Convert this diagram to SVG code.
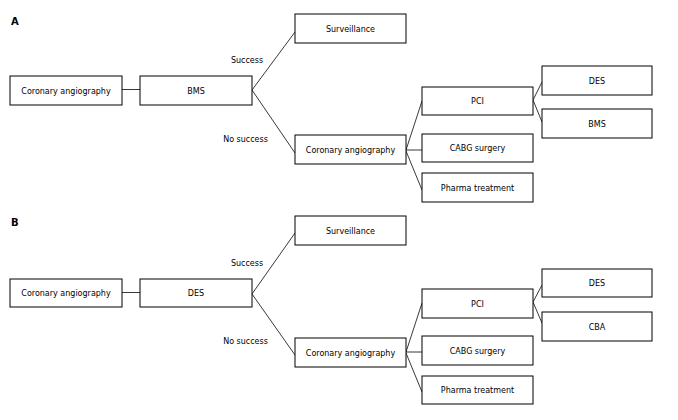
<svg xmlns="http://www.w3.org/2000/svg" width="678" height="420" viewBox="0 0 678 420">
<style>
rect{fill:#fff;stroke:#000;stroke-width:1}
text{font-family:"DejaVu Sans",Verdana,sans-serif;font-size:8px;fill:#000;text-anchor:middle}
.lbl{font-weight:bold;font-size:10px;text-anchor:start}
#connectors line{stroke:#222;stroke-width:0.9}
</style>
<rect x="0" y="0" width="678" height="420" style="stroke:none"/>
<text class="lbl" x="11" y="25">A</text>
<text class="lbl" x="11" y="226">B</text>
<g id="connectors">
<line x1="122" y1="89.5" x2="140" y2="89.5"/>
<line x1="252" y1="90" x2="295" y2="32"/>
<line x1="252" y1="90" x2="295" y2="153"/>
<line x1="406" y1="150" x2="422" y2="101"/>
<line x1="406" y1="150" x2="422" y2="150"/>
<line x1="406" y1="151" x2="422" y2="190"/>
<line x1="533" y1="100" x2="542" y2="82"/>
<line x1="533" y1="100" x2="542" y2="122"/>
<line x1="122" y1="292.5" x2="140" y2="292.5"/>
<line x1="252" y1="294" x2="295" y2="233"/>
<line x1="252" y1="294" x2="295" y2="355"/>
<line x1="406" y1="352" x2="422" y2="303"/>
<line x1="406" y1="352" x2="422" y2="352"/>
<line x1="406" y1="353" x2="422" y2="392"/>
<line x1="533" y1="302" x2="542" y2="285"/>
<line x1="533" y1="302" x2="542" y2="323"/>
<text x="247" y="63">Success</text>
<text x="245.5" y="142">No success</text>
<text x="247" y="266">Success</text>
<text x="245.5" y="344">No success</text>
</g>
<g id="a-cor1"><rect x="10" y="76" width="112" height="29"/><text x="66" y="93.5">Coronary angiography</text></g>
<g id="a-bms"><rect x="140" y="76" width="112" height="29"/><text x="196" y="93.5">BMS</text></g>
<g id="a-surv"><rect x="295" y="14" width="111" height="29"/><text x="350.5" y="31.5">Surveillance</text></g>
<g id="a-cor2"><rect x="295" y="135" width="111" height="29"/><text x="350.5" y="152.5">Coronary angiography</text></g>
<g id="a-pci"><rect x="422" y="87" width="111" height="28"/><text x="477.5" y="104">PCI</text></g>
<g id="a-cabg"><rect x="422" y="134" width="111" height="28"/><text x="477.5" y="151">CABG surgery</text></g>
<g id="a-pharma"><rect x="422" y="173" width="111" height="29"/><text x="477.5" y="190.5">Pharma treatment</text></g>
<g id="a-des"><rect x="542" y="66" width="110" height="29"/><text x="597" y="83.5">DES</text></g>
<g id="a-bms2"><rect x="542" y="109" width="110" height="29"/><text x="597" y="126.5">BMS</text></g>
<g id="b-cor1"><rect x="10" y="279" width="112" height="28"/><text x="66" y="296">Coronary angiography</text></g>
<g id="b-des"><rect x="140" y="279" width="112" height="28"/><text x="196" y="296">DES</text></g>
<g id="b-surv"><rect x="295" y="216" width="111" height="29"/><text x="350.5" y="233.5">Surveillance</text></g>
<g id="b-cor2"><rect x="295" y="338" width="111" height="29"/><text x="350.5" y="355.5">Coronary angiography</text></g>
<g id="b-pci"><rect x="422" y="289" width="111" height="29"/><text x="477.5" y="306.5">PCI</text></g>
<g id="b-cabg"><rect x="422" y="336" width="111" height="29"/><text x="477.5" y="353.5">CABG surgery</text></g>
<g id="b-pharma"><rect x="422" y="376" width="111" height="28"/><text x="477.5" y="393">Pharma treatment</text></g>
<g id="b-des2"><rect x="542" y="269" width="110" height="28"/><text x="597" y="286">DES</text></g>
<g id="b-cba"><rect x="542" y="312" width="110" height="29"/><text x="597" y="329.5">CBA</text></g>
</svg>
